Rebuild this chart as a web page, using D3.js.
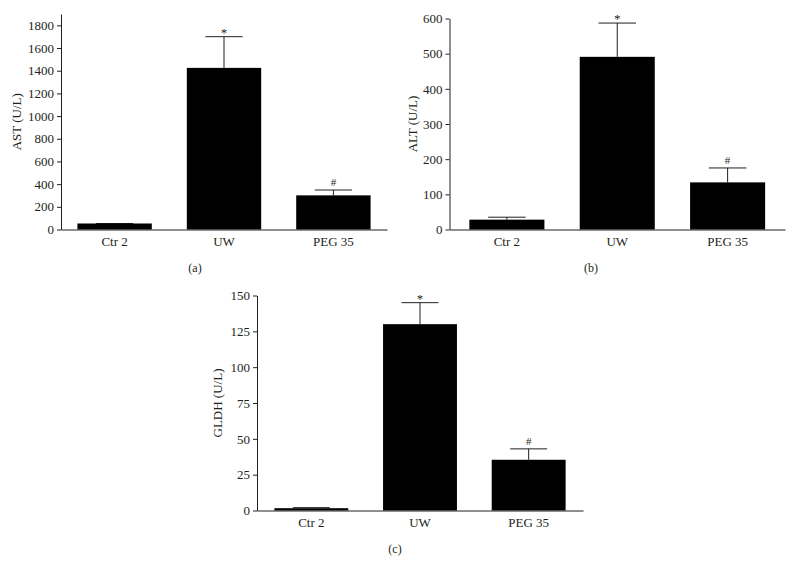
<!DOCTYPE html>
<html>
<head>
<meta charset="utf-8">
<script src="https://cdn.jsdelivr.net/npm/d3@7"></script>
<style>
  body { margin: 0; background: #fff; }
  svg text { font-family: "Liberation Serif", "Times New Roman", serif; fill: #231f20; }
</style>
</head>
<body>
<div id="visualisationDiv" style="width:793px;height:562px;"></div>
<script>
// Data
var groups = ["Ctr 2", "UW", "PEG 35"];

var astMean = [53, 1425, 301];
var astErr  = [0, 275, 47];
var astMarks = ["", "*", "#"];
var astTicks = [0, 200, 400, 600, 800, 1000, 1200, 1400, 1600, 1800];

var altMean = [28, 491, 134];
var altErr  = [7, 96, 41];
var altMarks = ["", "*", "#"];
var altTicks = [0, 100, 200, 300, 400, 500, 600];

var gldhMean = [1.6, 130, 35.4];
var gldhErr  = [0.4, 15, 7.6];
var gldhMarks = ["", "*", "#"];
var gldhTicks = [0, 25, 50, 75, 100, 125, 150];

function makeVisualisation() {
  var parentDiv = document.getElementById("visualisationDiv");

  var svg = d3.select(parentDiv).append("svg")
    .attr("width", 793)
    .attr("height", 562);

  // one bar panel
  function panel(opts) {
    var x = d3.scaleBand()
      .domain(groups)
      .range([opts.left, opts.right])
      .paddingInner(0.32)
      .paddingOuter(opts.outer);

    var y = d3.scaleLinear()
      .domain([0, opts.yMax])
      .range([opts.bottom, opts.top]);

    var g = svg.append("g");

    var rows = groups.map(function(d, i) {
      return { name: d, mean: opts.mean[i], err: opts.err[i], mark: opts.marks[i] };
    });

    // error bars (upper only)
    var eb = g.append("g").selectAll("g")
      .data(rows)
      .enter()
      .append("g")
        .attr("stroke", "#231f20")
        .attr("stroke-width", 1);

    eb.append("line")
      .attr("x1", function(d) { return x(d.name) + x.bandwidth() / 2; })
      .attr("x2", function(d) { return x(d.name) + x.bandwidth() / 2; })
      .attr("y1", function(d) { return y(d.mean); })
      .attr("y2", function(d) { return y(d.mean + d.err); });

    eb.append("line")
      .attr("x1", function(d) { return x(d.name) + x.bandwidth() / 4; })
      .attr("x2", function(d) { return x(d.name) + x.bandwidth() * 3 / 4; })
      .attr("y1", function(d) { return y(d.mean + d.err); })
      .attr("y2", function(d) { return y(d.mean + d.err); });

    // bars
    g.append("g").selectAll("rect")
      .data(rows)
      .enter()
      .append("rect")
        .attr("fill", "#000")
        .attr("x", function(d) { return x(d.name); })
        .attr("width", x.bandwidth())
        .attr("y", function(d) { return y(d.mean); })
        .attr("height", function(d) { return y(0) - y(d.mean); });

    // significance marks
    g.append("g").selectAll("text")
      .data(rows)
      .enter()
      .append("text")
        .attr("x", function(d) { return x(d.name) + x.bandwidth() / 2; })
        .attr("y", function(d) { return y(d.mean + d.err) - (d.mark == "*" ? 0 : 4); })
        .attr("text-anchor", "middle")
        .style("fill", "#231f20")
        .style("font-size", function(d) { return d.mark == "*" ? "13px" : "11px"; })
        .text(function(d) { return d.mark; });

    // y axis
    var yAxis = g.append("g")
      .attr("transform", "translate(" + opts.left + ",0)")
      .call(d3.axisLeft(y).tickValues(opts.ticks).tickFormat(d3.format("d"))
        .tickSize(4).tickSizeOuter(0).tickPadding(3));
    yAxis.selectAll("path, line").attr("stroke", "#231f20");
    yAxis.selectAll("text").style("font-size", "13px").attr("fill", "#231f20")
      .style("font-family", "'Liberation Serif', serif");

    // x axis
    var xAxis = g.append("g")
      .attr("transform", "translate(0," + opts.bottom + ")")
      .call(d3.axisBottom(x).tickSize(0).tickPadding(7));
    xAxis.select(".domain").attr("stroke", "#231f20");
    xAxis.selectAll("text").style("font-size", "13px").attr("fill", "#231f20")
      .style("font-family", "'Liberation Serif', serif");

    // y label
    g.append("text")
      .attr("transform", "translate(" + opts.labelX + "," + ((opts.bottom + opts.top) / 2) + ") rotate(-90)")
      .attr("text-anchor", "middle")
      .attr("dy", "0.35em")
      .style("font-size", "13px")
      .text(opts.label);

    // panel letter
    g.append("text")
      .attr("x", opts.letterX)
      .attr("y", opts.letterY)
      .attr("text-anchor", "middle")
      .style("font-size", "12px")
      .text(opts.letter);
  }

  panel({ mean: astMean, err: astErr, marks: astMarks, ticks: astTicks, yMax: 1900,
          left: 61, right: 387, top: 14, bottom: 229.5, outer: 0.15,
          label: "AST (U/L)", labelX: 16, letter: "(a)", letterX: 195, letterY: 272 });

  panel({ mean: altMean, err: altErr, marks: altMarks, ticks: altTicks, yMax: 600,
          left: 449.5, right: 785, top: 18.5, bottom: 229.5, outer: 0.18,
          label: "ALT (U/L)", labelX: 412, letter: "(b)", letterX: 591, letterY: 272 });

  panel({ mean: gldhMean, err: gldhErr, marks: gldhMarks, ticks: gldhTicks, yMax: 150,
          left: 257, right: 583, top: 295.5, bottom: 510.5, outer: 0.16,
          label: "GLDH (U/L)", labelX: 217, letter: "(c)", letterX: 395, letterY: 553 });
}

makeVisualisation();
</script>
</body>
</html>
